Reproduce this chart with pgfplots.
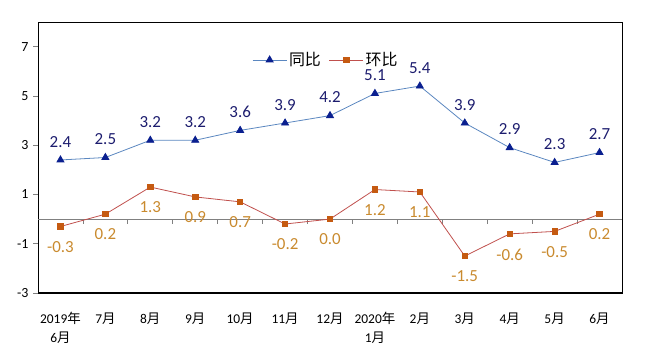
\documentclass[border=0pt]{standalone}
\usepackage{pgfplots}
\pgfplotsset{compat=1.18}
\usepackage{fontspec}
\setmainfont{Carlito}
\newfontfamily\cjk{Noto Sans CJK SC}
\definecolor{tbline}{HTML}{5B87C0}
\definecolor{tbmark}{HTML}{0A1F8F}
\definecolor{tblab}{HTML}{1C1C6E}
\definecolor{hbline}{HTML}{C0504D}
\definecolor{hbmark}{HTML}{C55A11}
\definecolor{hblab}{HTML}{C98A2E}
\begin{document}
\begin{tikzpicture}
\begin{axis}[
  scale only axis, width=584bp, height=271bp,
  xmin=-0.5, xmax=12.5, ymin=-3, ymax=8,
  clip=false,
  axis line style={black, line width=0.7bp},
  ytick={-3,-1,1,3,5,7},
  xtick={0,...,12},
  xticklabels={{2019{\cjk 年}\\6{\cjk 月}},7{\cjk 月},8{\cjk 月},9{\cjk 月},10{\cjk 月},11{\cjk 月},12{\cjk 月},{2020{\cjk 年}\\1{\cjk 月}},2{\cjk 月},3{\cjk 月},4{\cjk 月},5{\cjk 月},6{\cjk 月}},
  ytick pos=left, tick align=outside,
  major tick length=5bp,
  ytick style={gray, line width=0.7bp},
  xtick style={draw=none},
  yticklabel style={font=\fontsize{14}{16}\selectfont, xshift=-1bp},
  xticklabel style={font=\fontsize{13.5}{19}\selectfont, align=center, yshift=-11bp},
  /pgf/number format/assume math mode=true,
  legend style={at={(0.493,0.86)}, anchor=center, draw=none, fill=none,
    font=\fontsize{16}{18}\selectfont\cjk,
    /tikz/every even column/.append style={column sep=6bp}},
  legend columns=2,
  legend image code/.code={\draw[mark repeat=2,mark phase=2,#1] plot coordinates {(0bp,0bp) (17bp,0bp) (34bp,0bp)};},
]
\draw[gray, line width=0.8bp] (axis cs:-0.5,0) -- (axis cs:12.5,0);
\pgfplotsinvokeforeach{0.5,1.5,2.5,3.5,4.5,5.5,6.5,7.5,8.5,9.5,10.5,11.5}{
  \draw[gray, line width=0.7bp] (axis cs:#1,0) -- ([yshift=-5bp]axis cs:#1,0);
}
\addplot[color=tbline, line width=0.8bp, mark=triangle*, mark size=4bp,
  mark options={fill=tbmark, draw=tbmark},
  nodes near coords,
  every node near coord/.append style={color=tblab, font=\fontsize{17}{19}\selectfont, anchor=south, yshift=9bp,
    /pgf/number format/.cd, fixed, fixed zerofill, precision=1, assume math mode=true}]
coordinates {(0,2.4) (1,2.5) (2,3.2) (3,3.2) (4,3.6) (5,3.9) (6,4.2) (7,5.1) (8,5.4) (9,3.9) (10,2.9) (11,2.3) (12,2.7)};
\addlegendentry{同比}
\addplot[color=hbline, line width=0.8bp, mark=square*, mark size=2.7bp,
  mark options={fill=hbmark, draw=hbmark},
  nodes near coords,
  every node near coord/.append style={color=hblab, font=\fontsize{17}{19}\selectfont, anchor=north, yshift=-11bp,
    /pgf/number format/.cd, fixed, fixed zerofill, precision=1, assume math mode=true}]
coordinates {(0,-0.3) (1,0.2) (2,1.3) (3,0.9) (4,0.7) (5,-0.2) (6,0.0) (7,1.2) (8,1.1) (9,-1.5) (10,-0.6) (11,-0.5) (12,0.2)};
\addlegendentry{环比}
\draw[black, line width=1.5bp] (rel axis cs:0,0) -- (rel axis cs:1,0);
\coordinate (sw) at (rel axis cs:0,0);
\coordinate (ne) at (rel axis cs:1,1);
\end{axis}
\pgfresetboundingbox
\path[use as bounding box] ([shift={(-38bp,-65bp)}]sw) rectangle ([shift={(30bp,22bp)}]ne);
\end{tikzpicture}
\end{document}
